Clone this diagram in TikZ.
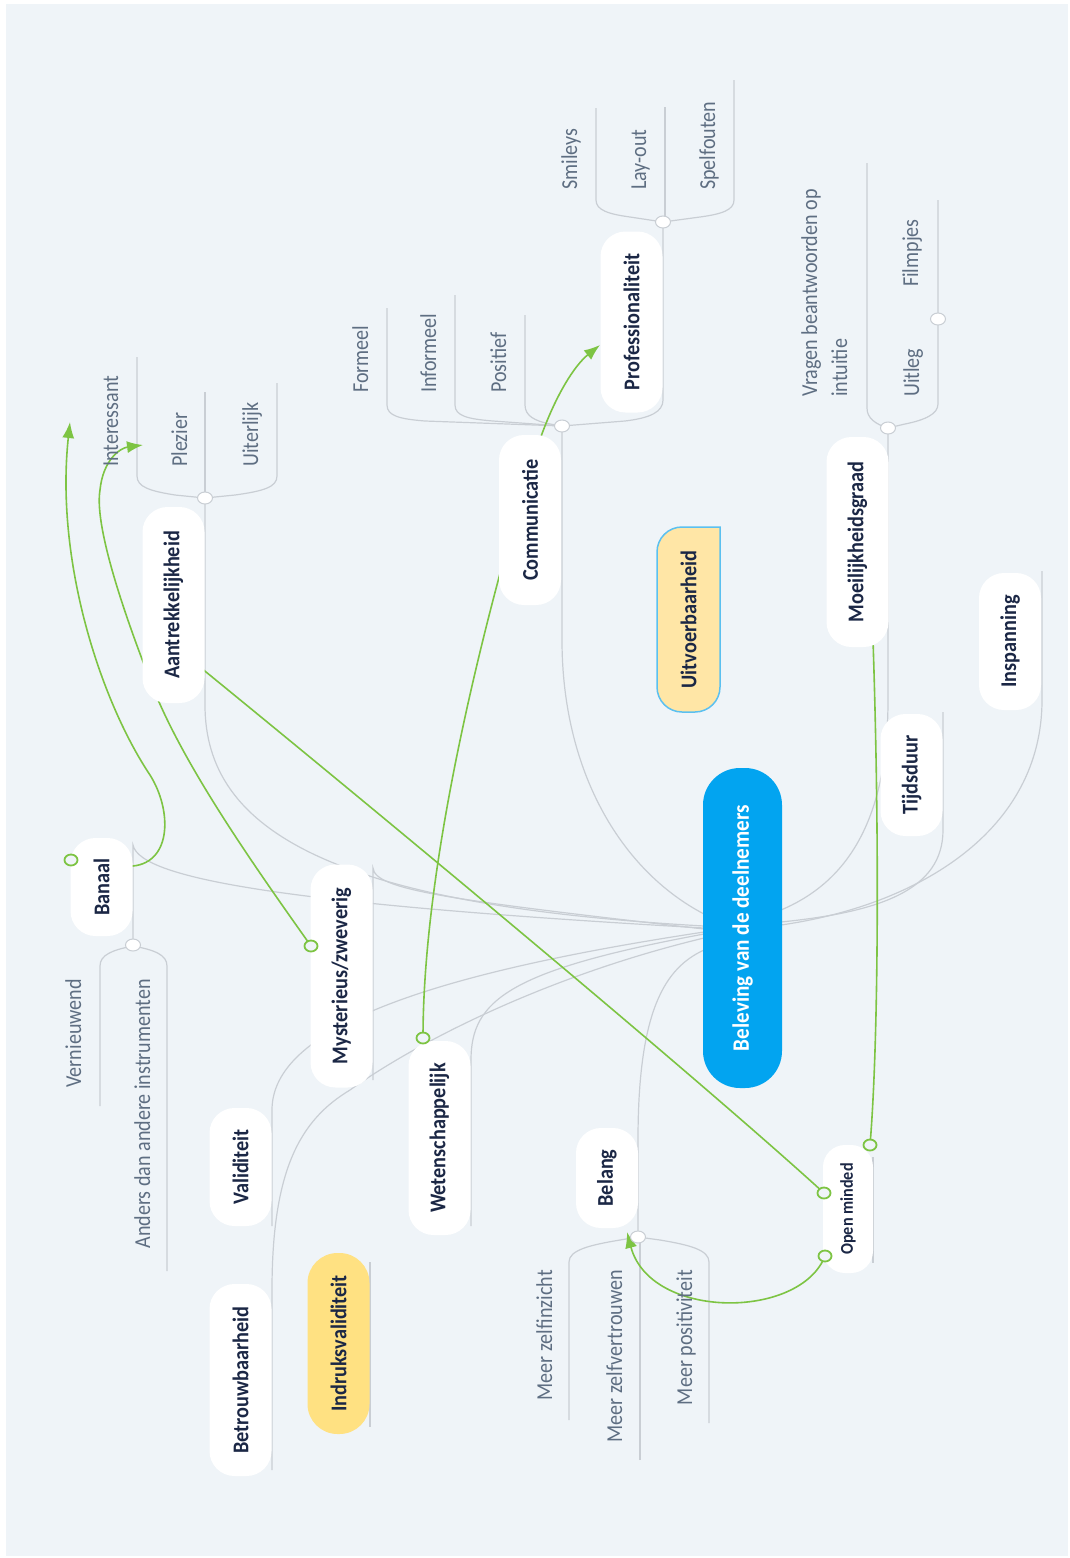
\documentclass[tikz,border=0pt]{standalone}
\usepackage{fontspec}
\usetikzlibrary{arrows.meta}
\newfontfamily\topicfont{Carlito}[FakeStretch=0.9]
\newfontfamily\leaffont{Carlito}[FakeStretch=0.88]
\definecolor{bgc}{HTML}{EFF4F8}
\definecolor{linec}{HTML}{C9CED4}
\definecolor{greenc}{HTML}{7DC443}
\definecolor{bluec}{HTML}{02A4F0}
\definecolor{navyc}{HTML}{1B2745}
\definecolor{leafc}{HTML}{5E6E82}
\definecolor{yellowi}{HTML}{FFE182}
\definecolor{yellowu}{HTML}{FFE6A6}
\definecolor{borderu}{HTML}{5BC0F0}
\begin{document}
\begin{tikzpicture}[x=1pt,y=-1pt,
  topic/.style={rotate=90, fill=white, rounded corners=25pt, minimum height=62pt, inner sep=0pt, text=navyc, font=\topicfont\bfseries\fontsize{22.5}{26}\selectfont},
  leaf/.style={rotate=90, inner sep=0pt, text=leafc, font=\leaffont\fontsize{22.8}{30}\selectfont},
  branch/.style={draw=linec, line width=1.2pt},
  rel/.style={draw=greenc, line width=1.6pt},
  relarrow/.style={draw=greenc, line width=1.6pt, -{Latex[length=16pt,width=12pt]}},
  knob/.style={fill=white, draw=linec, line width=1pt},
  gknob/.style={fill=bgc, draw=greenc, line width=1.8pt}]
\useasboundingbox (0,0) rectangle (1070,1558);
\fill[white] (0,0) rectangle (1070,1558);
\fill[bgc] (6,4) rectangle (1068,1556);

% hubs
\coordinate (hubL) at (704,928);
\coordinate (hubR) at (781,922);

% ---------- gray branches ----------
% Communicatie
\draw[branch] (562,426) -- (562,640) .. controls (562,770) and (620,870) .. (704,914);
% Aantrekkelijkheid
\draw[branch] (205,498) -- (205,705) .. controls (205,830) and (330,905) .. (704,926);
% Banaal
\draw[branch] (133,945) -- (133,845) .. controls (140,880) and (300,905) .. (704,928);
% Mysterieus
\draw[branch] (373,1080) -- (373,868) .. controls (375,890) and (450,900) .. (704,929);
% Validiteit
\draw[branch] (272,1226) -- (272,1110) .. controls (272,1030) and (420,975) .. (704,932);
% Betrouwbaarheid
\draw[branch] (272,1470) -- (272,1290) .. controls (272,1170) and (300,1120) .. (350,1090) .. controls (420,1040) and (550,975) .. (704,938);
% Wetenschappelijk
\draw[branch] (471,1226) -- (471,1060) .. controls (471,1000) and (510,970) .. (704,934);
% Belang
\draw[branch] (638,1237) -- (638,1140) .. controls (638,1010) and (665,968) .. (704,950);
% Moeilijkheidsgraad
\draw[branch] (888,428) -- (888,700) .. controls (888,830) and (840,885) .. (781,910);
% Tijdsduur
\draw[branch] (943,712) -- (943,830) .. controls (943,890) and (880,912) .. (781,922);
% Inspanning
\draw[branch] (1042,571) -- (1042,700) .. controls (1042,830) and (920,905) .. (781,925);
% Open minded, Indruksvaliditeit underlines
\draw[branch] (873,1157) -- (873,1263);
\draw[branch] (370,1262) -- (370,1427);

% ---------- brackets ----------
% Aantrekkelijkheid
\draw[branch] (137,357) -- (137,476) .. controls (137,487) and (150,491) .. (175,495) -- (205,498);
\draw[branch] (205,392) -- (205,498);
\draw[branch] (277,383) -- (277,476) .. controls (277,487) and (264,491) .. (235,495) -- (205,498);
% Communicatie
\draw[branch] (387,308) -- (387,405) .. controls (387,416) and (400,419) .. (425,421) -- (562,426);
\draw[branch] (455,295) -- (455,405) .. controls (455,416) and (468,419) .. (493,421) -- (562,426);
\draw[branch] (525,315) -- (525,405) .. controls (525,416) and (535,421) .. (550,424) -- (562,426);
\draw[branch] (663,222) -- (663,400) .. controls (663,412) and (650,418) .. (625,421) -- (562,426);
% Professionaliteit
\draw[branch] (596,108) -- (596,200) .. controls (596,210) and (608,214) .. (630,217) -- (663,222);
\draw[branch] (665,107) -- (665,222);
\draw[branch] (734,80) -- (734,200) .. controls (734,210) and (722,214) .. (700,217) -- (663,222);
% Moeilijkheidsgraad
\draw[branch] (867,163) -- (867,408) .. controls (867,418) and (875,424) .. (888,428);
\draw[branch] (938,200) -- (938,404) .. controls (938,414) and (925,420) .. (905,424) -- (888,428);
% Banaal
\draw[branch] (100,1106) -- (100,966) .. controls (100,955) and (112,950) .. (133,946);
\draw[branch] (167,1271) -- (167,966) .. controls (167,955) and (155,950) .. (133,946);
% Belang
\draw[branch] (569,1420) -- (569,1262) .. controls (569,1250) and (590,1245) .. (620,1240) -- (638,1237);
\draw[branch] (640,1460) -- (640,1237);
\draw[branch] (709,1423) -- (709,1262) .. controls (709,1250) and (690,1245) .. (660,1240) -- (638,1237);

% ---------- green relations (under nodes) ----------
\draw[relarrow] (71,860) -- (133,866) .. controls (172,862) and (172,810) .. (150,775) .. controls (100,700) and (55,560) .. (70,422);
\draw[relarrow] (311,946) .. controls (250,860) and (180,760) .. (150,680) .. controls (115,590) and (95,520) .. (100,490) .. controls (103,460) and (120,448) .. (143,445);
\draw[rel] (195,663) .. controls (400,830) and (700,1080) .. (824,1193);
\draw[rel] (423,1038) .. controls (423,900) and (460,720) .. (505,555);
\draw[relarrow] (538,445) .. controls (555,395) and (575,365) .. (600,345);
\draw[rel] (873,640) .. controls (880,850) and (878,1050) .. (870,1145);
\draw[relarrow] (825,1256) .. controls (800,1320) and (650,1320) .. (627,1232);

% ---------- topic nodes ----------
\node[topic, fill=bluec, text=white, minimum width=320pt, minimum height=79pt, rounded corners=37pt, font=\topicfont\bfseries\fontsize{23.5}{26}\selectfont] (C0) at (742.5,928) {Beleving van de deelnemers};
\node[topic, minimum width=196pt] (A) at (173.5,605) {Aantrekkelijkheid};
\node[topic, minimum width=170pt] (Co) at (530,520) {Communicatie};
\node[topic, minimum width=181pt] (P) at (631.5,322) {Professionaliteit};
\node[topic, minimum width=210pt] (M) at (857.5,542) {Moeilijkheidsgraad};
\filldraw[fill=yellowu, draw=borderu, line width=1.5pt] (720,527) -- (720,687) .. controls (720,700.8) and (708.8,712) .. (695,712) -- (682,712) .. controls (668.2,712) and (657,700.8) .. (657,687) -- (657,552) .. controls (657,538.2) and (668.2,527) .. (682,527) -- cycle;
\node[topic, fill=none, minimum width=185pt] (U) at (688.5,619.5) {Uitvoerbaarheid};
\node[topic, fill=yellowi, rounded corners=30pt, minimum width=181pt] (I) at (338.5,1343.5) {Indruksvaliditeit};
\node[topic, minimum width=98pt] (B) at (101.5,887) {Banaal};
\node[topic, minimum width=223pt] (My) at (341.5,976) {Mysterieus/zweverig};
\node[topic, minimum width=118pt] (V) at (240.5,1167) {Validiteit};
\node[topic, minimum width=192pt] (Be) at (240.5,1380) {Betrouwbaarheid};
\node[topic, minimum width=194pt] (W) at (439.5,1138) {Wetenschappelijk};
\node[topic, minimum width=100pt] (Bl) at (607,1178) {Belang};
\node[topic, minimum width=128pt, minimum height=50pt, rounded corners=22pt, font=\topicfont\bfseries\fontsize{18}{22}\selectfont] (O) at (848,1209) {Open minded};
\node[topic, minimum width=122pt] (T) at (911.5,775) {Tijdsduur};
\node[topic, minimum width=137pt] (In) at (1010,641.5) {Inspanning};

% ---------- leaves ----------
\node[leaf, anchor=base west] (l1) at (118,467) {Interessant};
\node[leaf, anchor=base west] (l2) at (187,467) {Plezier};
\node[leaf, anchor=base west] (l3) at (258,467) {Uiterlijk};
\node[leaf, anchor=base west] (l4) at (368,393) {Formeel};
\node[leaf, anchor=base west] (l5) at (436,393) {Informeel};
\node[leaf, anchor=base west] (l6) at (506,393) {Positief};
\node[leaf, anchor=base west] (l7) at (577,190) {Smileys};
\node[leaf, anchor=base west] (l8) at (646,190) {Lay-out};
\node[leaf, anchor=base west] (l9) at (715,190) {Spelfouten};
\node[leaf, anchor=north west, align=left] (l10) at (801,397) {Vragen beantwoorden op\\intuitie};
\node[leaf, anchor=base west] (l11) at (919,397) {Uitleg};
\node[leaf, anchor=base west] (l12) at (918,287) {Filmpjes};
\node[leaf, anchor=base east] (l13) at (81,979) {Vernieuwend};
\node[leaf, anchor=base east] (l14) at (150,979) {Anders dan andere instrumenten};
\node[leaf, anchor=base east] (l15) at (552,1270) {Meer zelfinzicht};
\node[leaf, anchor=base east] (l16) at (622,1270) {Meer zelfvertrouwen};
\node[leaf, anchor=base east] (l17) at (692,1270) {Meer positiviteit};

% ---------- knobs ----------
\foreach \p in {(205,498),(562,426),(663,222),(888,428),(938,319),(133,945),(638,1237)}
  \draw[knob] \p ellipse [x radius=7.5pt, y radius=6pt];
\foreach \p in {(71,860),(311,946),(423,1038),(824,1193),(870,1145),(825,1256)}
  \draw[gknob] \p ellipse [x radius=6.5pt, y radius=5.5pt];
\end{tikzpicture}
\end{document}
